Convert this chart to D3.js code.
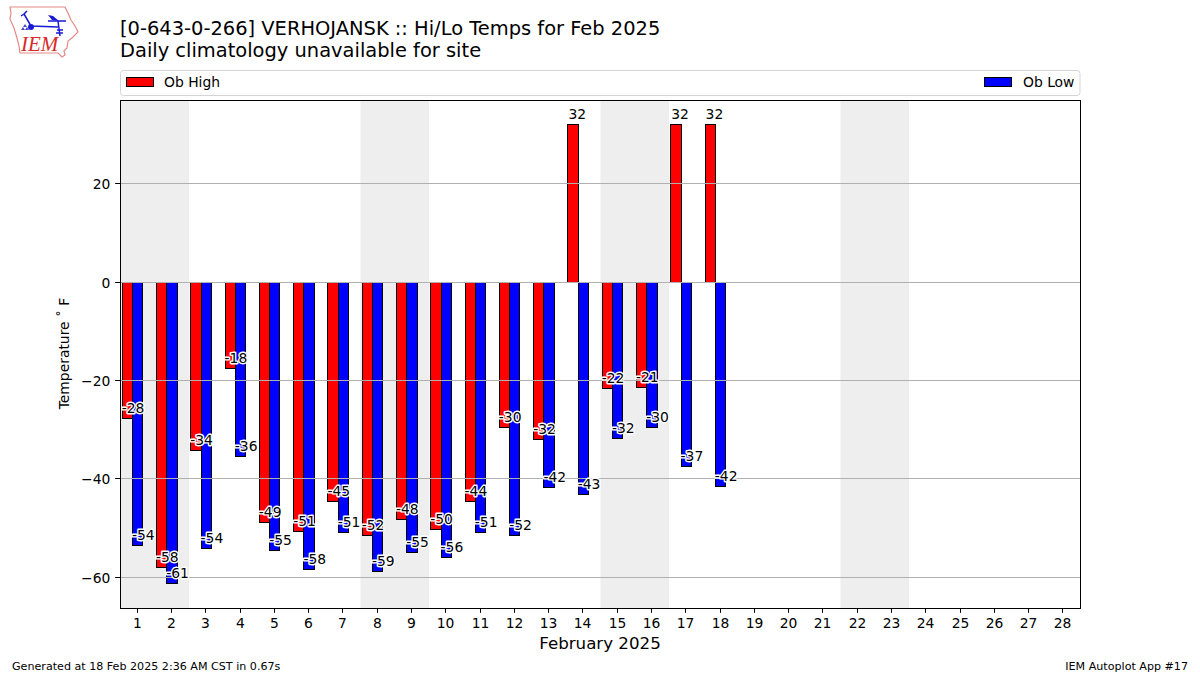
<!DOCTYPE html>
<html>
  <head>
    <meta charset="utf-8">
    <title>Hi/Lo Temps</title>
    <style>
      html, body { margin: 0; padding: 0; background: #fff; }
      text { font-family: "DejaVu Sans", sans-serif; fill: #000; }
    </style>
  </head>
  <body>
    <div id="chart"></div>
    <script src="https://cdn.jsdelivr.net/npm/d3@7"></script>
    <script>
    var days = d3.range(1, 29);
    var obDays = d3.range(1, 19);
    var highs = [-27.6, -57.9, -34.1, -17.5, -48.8, -50.6, -44.5, -51.4, -48.2, -50.2, -44.5, -29.5, -31.9, 32.1, -21.5, -21.3, 32.1, 32.1];
    var lows = [-53.5, -61.2, -54.1, -35.4, -54.5, -58.3, -50.8, -58.7, -54.9, -55.9, -50.8, -51.4, -41.7, -43.1, -31.7, -29.5, -37.4, -41.5];
    var highLabels = [-28, -58, -34, -18, -49, -51, -45, -52, -48, -50, -44, -30, -32, 32, -22, -21, 32, 32];
    var lowLabels = [-54, -61, -54, -36, -55, -58, -51, -59, -55, -56, -51, -52, -42, -43, -32, -30, -37, -42];
    var weekends = [[1, 2], [8, 9], [15, 16], [22, 23]];
    var yTicks = [20, 0, -20, -40, -60];

    var width = 1200, height = 675;
    var plotLeft = 120, plotRight = 1080, plotTop = 100, plotBottom = 608;

    var svg = d3.select("#chart").append("svg")
      .attr("width", width)
      .attr("height", height)
      .style("display", "block");

    var xScale = d3.scaleLinear().domain([0.5, 28.5]).range([plotLeft, plotRight]);
    var yScale = d3.scaleLinear().domain([37.05, -66.26]).range([plotTop, plotBottom]);

    // snap to pixel centres so edges stay crisp
    function snapX(v) { return Math.round(xScale(v)) + 0.5; }
    function snapY(v) { return Math.round(yScale(v)) + 0.5; }
    function gridY(v) { return Math.floor(yScale(v)) + 0.5; }

    // weekend bands
    svg.selectAll(".weekend").data(weekends).enter().append("rect")
      .attr("x", function(d) { return xScale(d[0] - 0.5) + 0.5; })
      .attr("y", plotTop)
      .attr("width", function(d) { return xScale(d[1] + 0.5) - xScale(d[0] - 0.5); })
      .attr("height", plotBottom - plotTop)
      .attr("fill", "#eeeeee");

    function bars(values, offset, color) {
      svg.append("g").selectAll("rect").data(values).enter().append("rect")
        .attr("x", function(d, i) { return snapX(obDays[i] + offset); })
        .attr("y", function(d) { return Math.min(snapY(d), gridY(0)); })
        .attr("width", function(d, i) { return snapX(obDays[i] + offset + 0.3) - snapX(obDays[i] + offset); })
        .attr("height", function(d) { return Math.abs(snapY(d) - gridY(0)); })
        .attr("fill", color)
        .attr("stroke", "#000")
        .attr("stroke-width", 1);
    }
    bars(highs, -0.45, "#ff0000");
    bars(lows, -0.15, "#0000ff");

    // grid sits above the bars
    svg.append("g").selectAll("line").data(yTicks).enter().append("line")
      .attr("x1", plotLeft).attr("x2", plotRight)
      .attr("y1", function(d) { return gridY(d); })
      .attr("y2", function(d) { return gridY(d); })
      .attr("stroke", "#b0b0b0")
      .attr("stroke-width", 1);

    function labels(values, text, offset) {
      svg.append("g").selectAll("text").data(values).enter().append("text")
        .attr("x", function(d, i) { return xScale(obDays[i] + offset) + (d > 0 ? 1 : 0); })
        .attr("y", function(d) { return yScale(d) - 5; })
        .attr("font-size", "13.89px")
        .attr("stroke", "#fff")
        .attr("stroke-width", 2.8)
        .attr("paint-order", "stroke")
        .attr("stroke-linejoin", "round")
        .text(function(d, i) { return text[i]; });
    }
    labels(highs, highLabels, -0.45);
    labels(lows, lowLabels, -0.15);

    // axes
    var xAxis = d3.axisBottom(xScale).tickValues(days).tickSize(4.86).tickPadding(4.86).tickFormat(d3.format("d"));
    var yAxis = d3.axisLeft(yScale).tickValues(yTicks).tickSize(4.86).tickPadding(4.86)
      .tickFormat(function(d) { return d < 0 ? "\u2212" + (-d) : d; });

    var gx = svg.append("g").attr("transform", "translate(0," + plotBottom + ")").call(xAxis);
    var gy = svg.append("g").attr("transform", "translate(" + plotLeft + ",0)").call(yAxis);
    gx.selectAll(".tick").attr("transform", function(d) { return "translate(" + (Math.floor(xScale(d)) + 0.5) + ",0)"; });
    gy.selectAll(".tick").attr("transform", function(d) { return "translate(0," + gridY(d) + ")"; });
    gy.selectAll("text").attr("dy", "5.3px");
    [gx, gy].forEach(function(g) {
      g.select(".domain").remove();
      g.selectAll("text").attr("font-size", "13.89px").attr("font-family", "DejaVu Sans").attr("fill", "#000");
      g.selectAll("line").attr("stroke", "#000");
    });

    svg.append("rect")
      .attr("x", plotLeft + 0.5).attr("y", plotTop + 0.5)
      .attr("width", plotRight - plotLeft).attr("height", plotBottom - plotTop)
      .attr("fill", "none").attr("stroke", "#000").attr("stroke-width", 1);

    // titles
    svg.append("text").attr("x", 120).attr("y", 35).attr("font-size", "19.44px")
      .text("[0-643-0-266] VERHOJANSK :: Hi/Lo Temps for Feb 2025");
    svg.append("text").attr("x", 120).attr("y", 57).attr("font-size", "19.44px")
      .text("Daily climatology unavailable for site");
    svg.append("text").attr("x", 600).attr("y", 649).attr("text-anchor", "middle").attr("font-size", "16.67px")
      .text("February 2025");
    svg.append("text").attr("transform", "translate(69,353.5) rotate(-90)").attr("text-anchor", "middle").attr("font-size", "13.89px")
      .text("Temperature \u02DA F");
    svg.append("text").attr("x", 12).attr("y", 670).attr("font-size", "11.11px")
      .text("Generated at 18 Feb 2025 2:36 AM CST in 0.67s");
    svg.append("text").attr("x", 1188).attr("y", 670).attr("text-anchor", "end").attr("font-size", "11.11px")
      .text("IEM Autoplot App #17");

    // legend
    svg.append("rect").attr("x", 120.5).attr("y", 70.5).attr("width", 959.5).attr("height", 25).attr("rx", 3)
      .attr("fill", "#fff").attr("stroke", "#d5d5d5");
    svg.append("rect").attr("x", 126.5).attr("y", 77.5).attr("width", 27).attr("height", 9)
      .attr("fill", "#ff0000").attr("stroke", "#000");
    svg.append("text").attr("x", 164).attr("y", 87).attr("font-size", "13.89px").text("Ob High");
    svg.append("rect").attr("x", 984.5).attr("y", 77.5).attr("width", 27).attr("height", 9)
      .attr("fill", "#0000ff").attr("stroke", "#000");
    svg.append("text").attr("x", 1023).attr("y", 87).attr("font-size", "13.89px").text("Ob Low");

    // logo
    var logo = svg.append("g");
    logo.append("path")
      .attr("d", "M10,7 L65,7 L68,13 L71,20 L75,26 L78,32 L73,37 L68,41 L67,48 L64,51 L65,55 L62,57 L58,53 L20,53 L19,46 L17,38 L14,28 L10,19 L11,13 Z")
      .attr("fill", "none").attr("stroke", "#e58a8a").attr("stroke-width", 1.2);
    logo.append("path")
      .attr("d", "M31,26 L24,14 M24,14 L21,16 M24,14 L27,11 M31,26 L58,27 M48,21 L66,21 M58,21 L60,36 M57,30 L63,30 M56,33 L63,33")
      .attr("fill", "none").attr("stroke", "#1a1ad6").attr("stroke-width", 1.5);
    logo.append("path").attr("d", "M48,15 L53,16 L59,21 L52,20 Z").attr("fill", "#1a1ad6");
    logo.append("circle").attr("cx", 31).attr("cy", 27).attr("r", 3).attr("fill", "#1a1ad6");
    logo.append("path").attr("d", "M25,24 L27,27 L23,27 Z M23,27 L25,30 L21,30 Z M27,27 L29,30 L25,30 Z").attr("fill", "#4a4ac8");
    logo.append("text").attr("x", 21).attr("y", 51)
      .attr("font-size", "21px")
      .style("font-family", "'Liberation Serif', serif")
      .style("font-style", "italic")
      .style("fill", "#d62b2b")
      .text("IEM");
    </script>
  </body>
</html>
